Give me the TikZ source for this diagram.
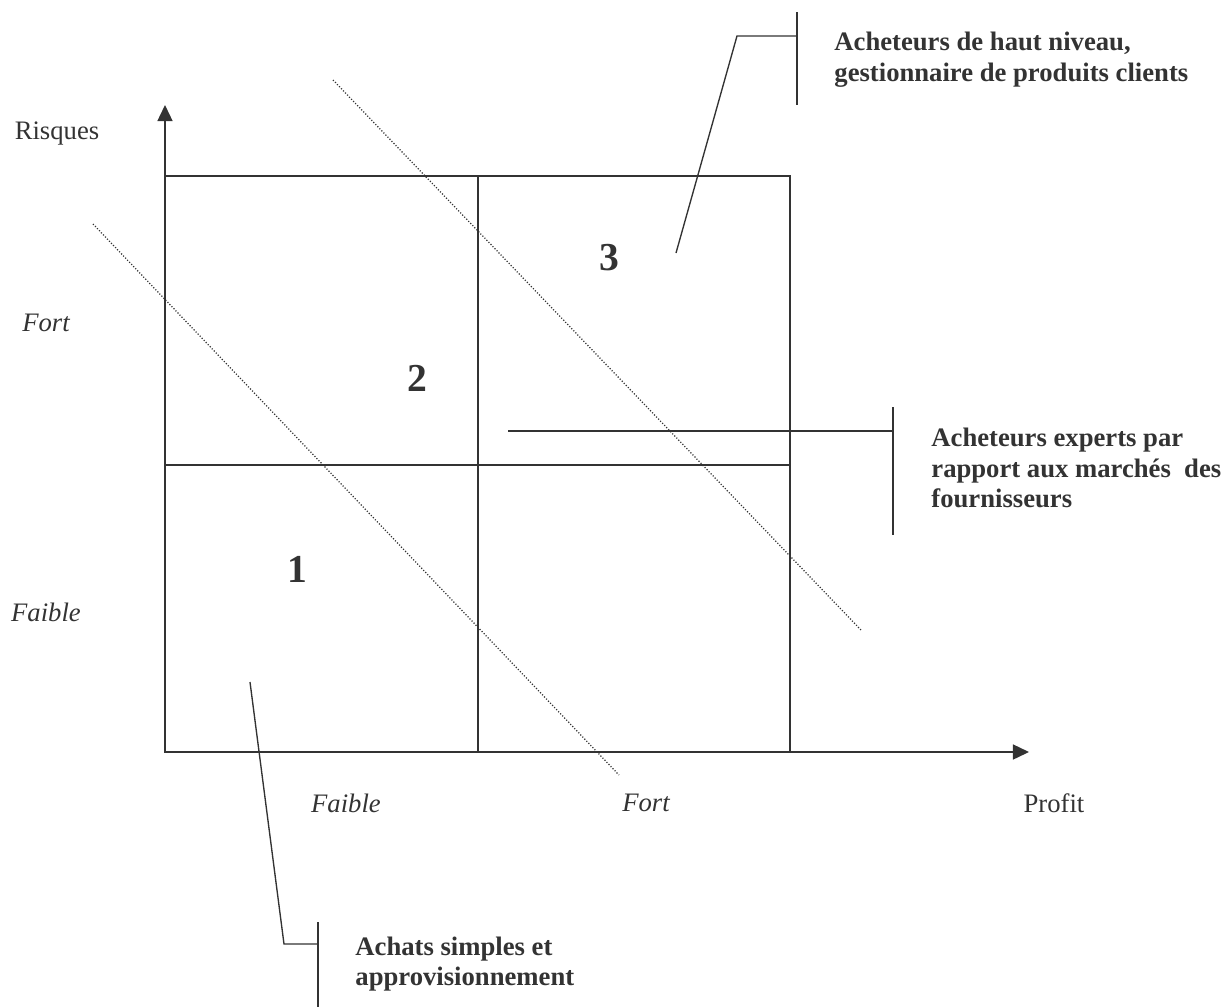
\documentclass[tikz,border=0pt]{standalone}
\usepackage{fontspec}
\setmainfont{Liberation Serif}
\usetikzlibrary{arrows.meta}
\definecolor{ink}{HTML}{333333}
\begin{document}
\begin{tikzpicture}[x=0.48pt,y=-0.48pt,
  line/.style={draw=ink,line width=0.65pt},
  axisline/.style={draw=ink,line width=0.75pt,-{Triangle[length=7.7pt,width=7.2pt]}},
  dotline/.style={draw=ink,line width=0.6pt,dash pattern=on 0.55pt off 0.85pt},
  lbl/.style={text=ink,inner sep=0pt,font=\fontsize{12.8pt}{15pt}\selectfont},
  ilbl/.style={lbl,font=\fontsize{12.8pt}{15pt}\selectfont\itshape},
  num/.style={text=ink,inner sep=0pt,font=\fontsize{19pt}{22pt}\selectfont\bfseries},
  callout/.style={text=ink,inner sep=0pt,anchor=west,align=left,font=\fontsize{12.8pt}{14.8pt}\selectfont\bfseries}]
\useasboundingbox (0,0) rectangle (1232,1008);

% axes
\coordinate (O) at (165,752);
\coordinate (Ytop) at (165,105);
\coordinate (Xend) at (1029,752);
\draw[axisline] (O) -- (Ytop);
\draw[axisline] (O) -- (Xend);

% grid
\coordinate (G1) at (165,176);
\coordinate (G2) at (790,752);
\coordinate (Mt) at (478,176);
\coordinate (Mb) at (478,752);
\coordinate (Ml) at (165,465);
\coordinate (Mr) at (790,465);
\draw[line] (G1) rectangle (G2);
\draw[line] (Mt) -- (Mb);
\draw[line] (Ml) -- (Mr);

% dotted diagonals
\coordinate (D1a) at (93,224);
\coordinate (D1b) at (619,775);
\coordinate (D2a) at (333,80);
\coordinate (D2b) at (861,630);
\draw[dotline] (D1a) -- (D1b);
\draw[dotline] (D2a) -- (D2b);

% callout 3
\coordinate (C3a) at (676,253);
\coordinate (C3b) at (737,36);
\coordinate (C3c) at (797,36);
\coordinate (B3t) at (797,12);
\coordinate (B3b) at (797,105);
\draw[line] (C3a) -- (C3b) -- (C3c);
\draw[line] (B3t) -- (B3b);
\node[callout] (T3) at (834,60) {Acheteurs de haut niveau,\\gestionnaire de produits clients};

% callout 2
\coordinate (C2a) at (508,431);
\coordinate (C2b) at (893,431);
\coordinate (B2t) at (893,407);
\coordinate (B2b) at (893,535);
\draw[line] (C2a) -- (C2b);
\draw[line] (B2t) -- (B2b);
\node[callout] (T2) at (931,468) {Acheteurs experts par\\rapport aux marchés\ \ des\\fournisseurs};

% callout 1
\coordinate (C1a) at (250,682);
\coordinate (C1b) at (284,944);
\coordinate (C1c) at (318,944);
\coordinate (B1t) at (318,922);
\coordinate (B1b) at (318,1007);
\draw[line] (C1a) -- (C1b) -- (C1c);
\draw[line] (B1t) -- (B1b);
\node[callout] (T1) at (355,964) {Achats simples et\\approvisionnement};

% axis labels
\node[lbl] (risq) at (57,134) {Risques};
\node[ilbl] (fortl) at (46,323) {Fort};
\node[ilbl] (faiblel) at (46,612) {Faible};
\node[ilbl] (faibleb) at (346,803) {Faible};
\node[ilbl] (fortb) at (646,803) {Fort};
\node[lbl] (profit) at (1054,803) {Profit};

% zone numbers
\node[num] (n1) at (297,569) {1};
\node[num] (n2) at (417,378) {2};
\node[num] (n3) at (609,258) {3};
\end{tikzpicture}
\end{document}
